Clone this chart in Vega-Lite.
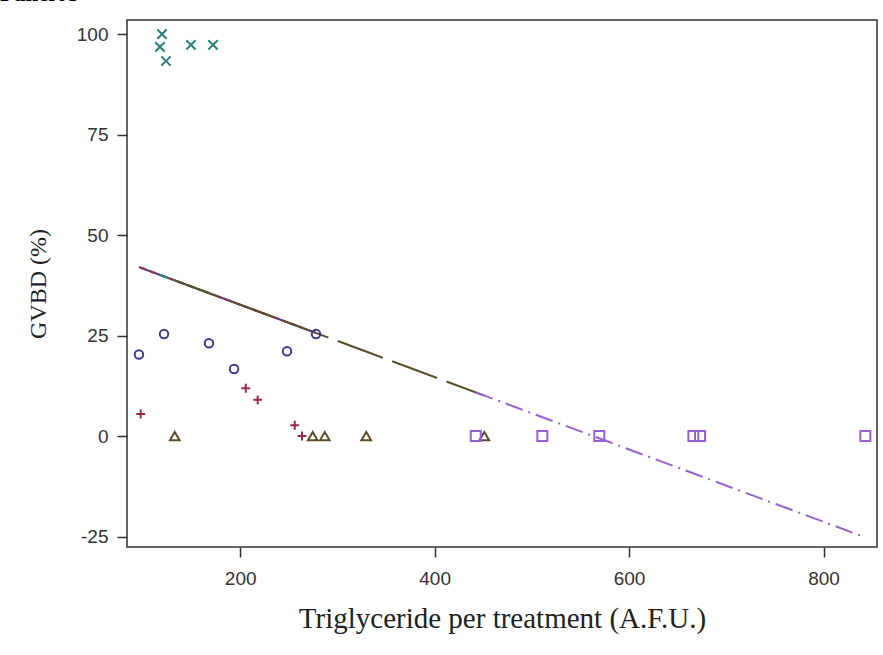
{
  "$schema": "https://vega.github.io/schema/vega-lite/v6.json",
  "autosize": {"type": "none"},
  "padding": {"left": 127, "top": 20, "right": 6, "bottom": 108},
  "width": 750,
  "height": 527,
  "background": "white",
  "title": {
    "text": "Panel A",
    "anchor": "start",
    "frame": "group",
    "orient": "top",
    "offset": 4,
    "dx": -127,
    "dy": 8,
    "baseline": "alphabetic",
    "font": "Liberation Serif",
    "fontSize": 23,
    "fontWeight": "bold",
    "color": "#000000"
  },
  "config": {
    "view": {"stroke": "#333333", "strokeWidth": 1.5},
    "axis": {
      "domain": false,
      "grid": false,
      "ticks": true,
      "tickSize": 10,
      "tickWidth": 1.5,
      "tickColor": "#333333",
      "labelFont": "Liberation Sans",
      "labelFontSize": 19,
      "labelColor": "#333333",
      "titleFont": "Liberation Serif",
      "titleFontWeight": "normal",
      "titleColor": "#222222"
    }
  },
  "datasets": {
    "points": [
      {"group": "A", "tg": 95.9, "gvbd": 20.3},
      {"group": "A", "tg": 121.7, "gvbd": 25.4},
      {"group": "A", "tg": 167.9, "gvbd": 23.1},
      {"group": "A", "tg": 193.7, "gvbd": 16.7},
      {"group": "A", "tg": 248.2, "gvbd": 21.1},
      {"group": "A", "tg": 278.0, "gvbd": 25.4},
      {"group": "B", "tg": 97.7, "gvbd": 5.5},
      {"group": "B", "tg": 205.7, "gvbd": 11.9},
      {"group": "B", "tg": 218.0, "gvbd": 9.0},
      {"group": "B", "tg": 256.1, "gvbd": 2.7},
      {"group": "B", "tg": 263.6, "gvbd": 0},
      {"group": "C", "tg": 119.6, "gvbd": 100},
      {"group": "C", "tg": 117.5, "gvbd": 96.8},
      {"group": "C", "tg": 123.7, "gvbd": 93.3},
      {"group": "C", "tg": 149.4, "gvbd": 97.3},
      {"group": "C", "tg": 172.1, "gvbd": 97.3},
      {"group": "D", "tg": 132.7, "gvbd": 0},
      {"group": "D", "tg": 274.6, "gvbd": 0},
      {"group": "D", "tg": 287.0, "gvbd": 0},
      {"group": "D", "tg": 329.7, "gvbd": 0},
      {"group": "D", "tg": 451.1, "gvbd": 0},
      {"group": "E", "tg": 442.3, "gvbd": 0},
      {"group": "E", "tg": 510.8, "gvbd": 0},
      {"group": "E", "tg": 569.4, "gvbd": 0},
      {"group": "E", "tg": 666.1, "gvbd": 0},
      {"group": "E", "tg": 673.0, "gvbd": 0},
      {"group": "E", "tg": 843.0, "gvbd": 0}
    ],
    "fits": [
      {"group": "A", "tg": 95.9, "gvbd": 42.04},
      {"group": "A", "tg": 278.0, "gvbd": 25.65},
      {"group": "B", "tg": 97.7, "gvbd": 41.88},
      {"group": "B", "tg": 263.6, "gvbd": 26.95},
      {"group": "C", "tg": 117.5, "gvbd": 40.1},
      {"group": "C", "tg": 172.1, "gvbd": 35.18},
      {"group": "D", "tg": 132.7, "gvbd": 38.73},
      {"group": "D", "tg": 451.1, "gvbd": 10.07},
      {"group": "E", "tg": 442.3, "gvbd": 10.86},
      {"group": "E", "tg": 843.0, "gvbd": -25.2}
    ]
  },
  "layer": [
    {
      "data": {"name": "fits"},
      "mark": {"type": "line", "strokeWidth": 2, "clip": true},
      "encoding": {
        "x": {"field": "tg", "type": "quantitative"},
        "y": {"field": "gvbd", "type": "quantitative"},
        "color": {"field": "group", "type": "nominal", "legend": null,
          "scale": {"domain": ["A", "B", "C", "D", "E"], "range": ["#3c3c8c", "#9b2a45", "#2a7f78", "#5c4d2a", "#9563cf"]}},
        "strokeDash": {"field": "group", "type": "nominal", "legend": null,
          "scale": {"domain": ["A", "B", "C", "D", "E"], "range": [[1, 0], [6, 4], [10, 4], [48, 10], [18, 6, 2, 6]]}}
      }
    },
    {
      "data": {"name": "points"},
      "mark": {"type": "point", "filled": false, "strokeWidth": 2, "opacity": 1},
      "encoding": {
        "x": {
          "field": "tg", "type": "quantitative",
          "scale": {"domain": [83.6, 855], "nice": false, "zero": false},
          "axis": {"values": [200, 400, 600, 800], "title": "Triglyceride per treatment (A.F.U.)", "titleFontSize": 29, "labelPadding": 12, "titlePadding": 16}
        },
        "y": {
          "field": "gvbd", "type": "quantitative",
          "scale": {"domain": [-27.6, 103.5], "nice": false, "zero": false},
          "axis": {"values": [-25, 0, 25, 50, 75, 100], "labelExpr": "replace(datum.label, '\u2212', '-')", "title": "GVBD (%)", "titleFontSize": 24, "labelPadding": 9, "titlePadding": 26}
        },
        "color": {"field": "group", "type": "nominal", "legend": null,
          "scale": {"domain": ["A", "B", "C", "D", "E"], "range": ["#3c3caa", "#9b2a45", "#2a7f78", "#5c4d25", "#8a4cc0"]}},
        "shape": {"field": "group", "type": "nominal", "legend": null,
          "scale": {"domain": ["A", "B", "C", "D", "E"], "range": ["circle", "M-1,0L1,0M0,-1L0,1", "M-1,-1L1,1M-1,1L1,-1", "triangle-up", "square"]}},
        "size": {"field": "group", "type": "nominal", "legend": null,
          "scale": {"domain": ["A", "B", "C", "D", "E"], "range": [72, 100, 90, 80, 70]}}
      }
    }
  ]
}
